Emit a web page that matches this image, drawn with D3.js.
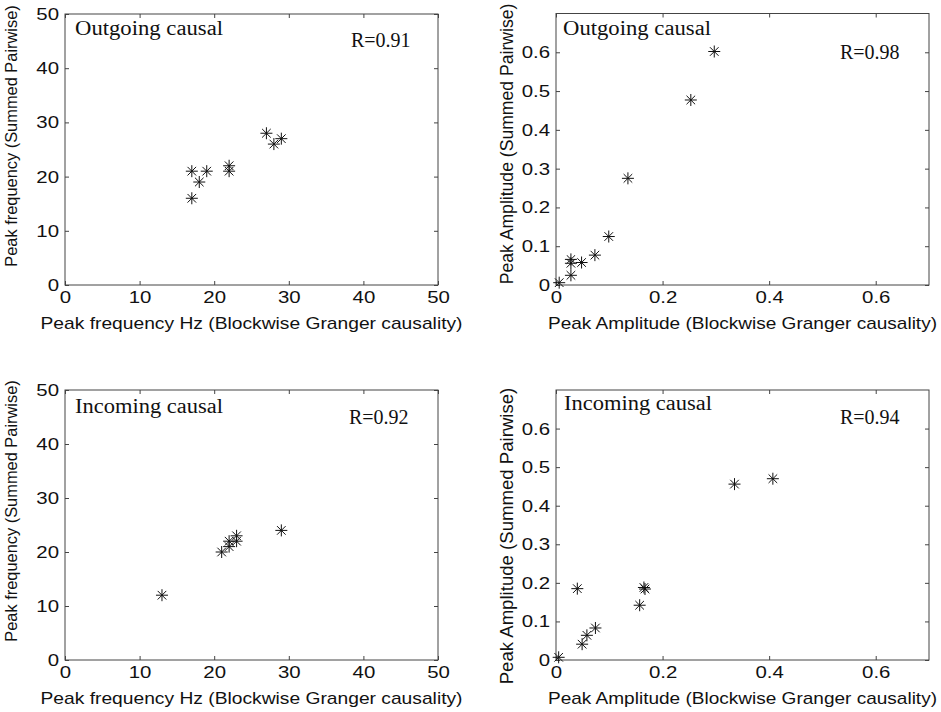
<!DOCTYPE html>
<html>
<head>
<meta charset="utf-8">
<script src="https://cdn.jsdelivr.net/npm/d3@7/dist/d3.min.js"></script>
<style>
  body { margin: 0; background: #fff; }
  text { fill: #111; }
</style>
</head>
<body>
<svg id="chart" width="941" height="712"></svg>
<script>
// values
var outFreqX = [17, 19, 18, 17, 22, 22, 27, 28, 29];
var outFreqY = [21, 21, 19, 16, 22, 21, 28, 26, 27];

var outAmpX = [0.006, 0.028, 0.028, 0.028, 0.048, 0.073, 0.099, 0.135, 0.253, 0.297];
var outAmpY = [0.006, 0.025, 0.056, 0.066, 0.058, 0.077, 0.125, 0.275, 0.477, 0.602];

var inFreqX = [13, 21, 22, 22, 23, 23, 29];
var inFreqY = [12, 20, 21, 22, 22, 23, 24];

var inAmpX = [0.005, 0.040, 0.049, 0.058, 0.074, 0.157, 0.165, 0.167, 0.335, 0.407];
var inAmpY = [0.007, 0.185, 0.041, 0.064, 0.083, 0.142, 0.188, 0.184, 0.456, 0.470];

var freqTicks = [0, 10, 20, 30, 40, 50];
var ampXTicks = [0, 0.2, 0.4, 0.6];
var ampYTicks = [0, 0.1, 0.2, 0.3, 0.4, 0.5, 0.6];

var freqXLabel = "Peak frequency Hz (Blockwise Granger causality)";
var freqYLabel = "Peak frequency (Summed Pairwise)";
var ampXLabel = "Peak Amplitude (Blockwise Granger causality)";
var ampYLabel = "Peak Amplitude (Summed Pairwise)";

var sans = "'Liberation Sans', Arial, sans-serif";
var serif = "'Liberation Serif', 'Times New Roman', serif";

var svg = d3.select("#chart");

var panels = [
  { left: 65, top: 14, w: 373, h: 271, xs: outFreqX, ys: outFreqY, xDom: [0, 50], yDom: [0, 50],
    xt: freqTicks, yt: freqTicks, xLab: freqXLabel, yLab: freqYLabel, xLabW: 422, yLabFs: 16.4, yLabX: 17, yLabY: 136,
    title: "Outgoing causal", titleAt: [75, 35], r: "R=0.91", rAt: [351, 47] },
  { left: 556, top: 13.5, w: 373, h: 271.5, xs: outAmpX, ys: outAmpY, xDom: [0, 0.7], yDom: [0, 0.7],
    xt: ampXTicks, yt: ampYTicks, xLab: ampXLabel, yLab: ampYLabel, xLabW: 389, yLabFs: 17.6, yLabX: 513, yLabY: 144,
    title: "Outgoing causal", titleAt: [563, 35], r: "R=0.98", rAt: [840, 59] },
  { left: 65, top: 390, w: 373, h: 270, xs: inFreqX, ys: inFreqY, xDom: [0, 50], yDom: [0, 50],
    xt: freqTicks, yt: freqTicks, xLab: freqXLabel, yLab: freqYLabel, xLabW: 422, yLabFs: 16.4, yLabX: 17, yLabY: 511,
    title: "Incoming causal", titleAt: [75, 413], r: "R=0.92", rAt: [349, 424] },
  { left: 556, top: 390, w: 373, h: 270, xs: inAmpX, ys: inAmpY, xDom: [0, 0.7], yDom: [0, 0.7],
    xt: ampXTicks, yt: ampYTicks, xLab: ampXLabel, yLab: ampYLabel, xLabW: 389, yLabFs: 18.6, yLabX: 513, yLabY: 536,
    title: "Incoming causal", titleAt: [564, 410], r: "R=0.94", rAt: [840, 424] }
];

var fmt = d3.format("~g");
var star = "M-6,0H6M0,-6V6M-4.3,-4.3L4.3,4.3M-4.3,4.3L4.3,-4.3";

// stretch tick text a bit horizontally, the source figure is wider than tall
function widen(sel, k) {
  sel.each(function() {
    var w = this.getComputedTextLength();
    d3.select(this).attr("textLength", w * k).attr("lengthAdjust", "spacingAndGlyphs");
  });
}

panels.forEach(function(p) {
  var g = svg.append("g").attr("transform", "translate(" + p.left + "," + p.top + ")");

  var x = d3.scaleLinear().domain(p.xDom).range([0, p.w]);
  var y = d3.scaleLinear().domain(p.yDom).range([p.h, 0]);

  g.append("rect")
    .attr("width", p.w).attr("height", p.h)
    .attr("fill", "none").attr("stroke", "#444").attr("stroke-width", 1);

  var axes = [
    { ax: d3.axisBottom(x), t: "translate(0," + p.h + ")", vals: p.xt, lab: true },
    { ax: d3.axisTop(x), t: null, vals: p.xt, lab: false },
    { ax: d3.axisLeft(y), t: null, vals: p.yt, lab: true },
    { ax: d3.axisRight(y), t: "translate(" + p.w + ",0)", vals: p.yt, lab: false }
  ];

  axes.forEach(function(a) {
    var ag = g.append("g");
    if(a.t) ag.attr("transform", a.t);
    ag.call(a.ax.tickValues(a.vals).tickSizeInner(-4).tickSizeOuter(0).tickPadding(6)
      .tickFormat(a.lab ? fmt : ""));
    ag.select(".domain").remove();
    ag.selectAll(".tick line").attr("stroke", "#444");
    ag.selectAll(".tick text")
      .attr("font-family", sans).attr("font-size", 17).attr("fill", "#111");
    if(a.lab) widen(ag.selectAll(".tick text"), 1.2);
  });

  g.selectAll("path.pt")
    .data(d3.range(p.xs.length))
    .enter().append("path")
    .attr("class", "pt")
    .attr("d", star)
    .attr("transform", function(i) { return "translate(" + x(p.xs[i]) + "," + y(p.ys[i]) + ")"; })
    .attr("fill", "none").attr("stroke", "#111").attr("stroke-width", 1);

  svg.append("text")
    .attr("x", p.left + p.w / 2).attr("y", p.top + p.h + 44)
    .attr("text-anchor", "middle")
    .attr("font-family", sans).attr("font-size", 17)
    .attr("textLength", p.xLabW).attr("lengthAdjust", "spacingAndGlyphs")
    .text(p.xLab);

  svg.append("text")
    .attr("transform", "translate(" + p.yLabX + "," + p.yLabY + ") rotate(-90)")
    .attr("text-anchor", "middle")
    .attr("font-family", sans).attr("font-size", p.yLabFs)
    .text(p.yLab);

  svg.append("text")
    .attr("x", p.titleAt[0]).attr("y", p.titleAt[1])
    .attr("font-family", serif).attr("font-size", 20)
    .attr("textLength", 148).attr("lengthAdjust", "spacingAndGlyphs")
    .text(p.title);

  svg.append("text")
    .attr("x", p.rAt[0]).attr("y", p.rAt[1])
    .attr("font-family", serif).attr("font-size", 20)
    .text(p.r);
});
</script>
</body>
</html>
